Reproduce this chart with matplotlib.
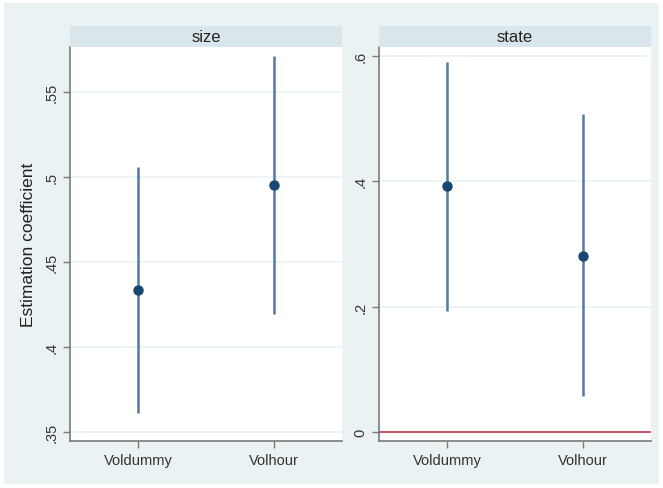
import numpy as np
import matplotlib.pyplot as plt
from matplotlib.patches import Rectangle

plt.rcParams['font.family'] = ['Liberation Sans', 'DejaVu Sans']

# dati
categorie = ["Voldummy", "Volhour"]
size_coef = [0.4335, 0.4953]
size_lo = [0.3612, 0.4194]
size_hi = [0.5059, 0.5712]
state_coef = [0.392, 0.2816]
state_lo = [0.1936, 0.0576]
state_hi = [0.590, 0.507]

W, H = 663, 489
fig = plt.figure(figsize=(W / 100, H / 100), dpi=100)
fig.patch.set_facecolor("white")
fig.patches.append(Rectangle((4 / W, 4 / H), 655 / W, 481 / H, transform=fig.transFigure,
                             facecolor="#eaf2f3", edgecolor="none", zorder=-10))

bg = "#eaf2f3"
strip = "#d9e6eb"
linea = "#55799f"
punto = "#1a476f"
grigio = "#7a7a7a"


def pannello(x0, x1, titolo, coef, lo, hi, ylim, ticks, ticklab):
    y0, y1 = 48, 442
    ax = fig.add_axes([x0 / W, 1 - y1 / H, (x1 - x0) / W, (y1 - y0) / H])
    ax.set_facecolor("white")
    pos = np.arange(1, len(categorie) + 1)
    ax.vlines(pos, lo, hi, color=linea, lw=1.8, zorder=3)
    ax.plot(pos, coef, 'o', color=punto, ms=6.5, zorder=4)
    ax.set_xlim(0.5, 2.5)
    ax.set_ylim(*ylim)
    ax.set_xticks(pos)
    ax.set_xticklabels(categorie, fontsize=10.5)
    ax.set_yticks(ticks)
    ax.set_yticklabels(ticklab, fontsize=10.5, rotation=90, va="center")
    ax.grid(axis="y", color=bg, lw=1.2, zorder=1)
    ax.set_axisbelow(True)
    for s in ["top", "right"]:
        ax.spines[s].set_visible(False)
    for s in ["left", "bottom"]:
        ax.spines[s].set_color(grigio)
        ax.spines[s].set_linewidth(1.2)
    ax.tick_params(colors=grigio, labelcolor="#333333", length=5, width=1)
    # striscia del titolo
    sax = fig.add_axes([x0 / W, 1 - 48 / H, (x1 - x0) / W, 21 / H])
    sax.set_facecolor(strip)
    sax.set_xticks([])
    sax.set_yticks([])
    for s in sax.spines.values():
        s.set_visible(False)
    sax.text(0.5, 0.5, titolo, ha="center", va="center", fontsize=12, color="#222222",
             transform=sax.transAxes)
    return ax


ax1 = pannello(70, 342, "size", size_coef, size_lo, size_hi, (0.3447, 0.5765),
               [0.35, 0.4, 0.45, 0.5, 0.55], [".35", ".4", ".45", ".5", ".55"])
ax1.set_ylabel("Estimation coefficient", fontsize=12.5, color="#222222", labelpad=6)

ax2 = pannello(379, 651, "state", state_coef, state_lo, state_hi, (-0.0144, 0.6144),
               [0, 0.2, 0.4, 0.6], ["0", ".2", ".4", ".6"])
ax2.axhline(0, color="#c8364a", lw=1.2, zorder=2)

plt.savefig("out.png", dpi=100)
